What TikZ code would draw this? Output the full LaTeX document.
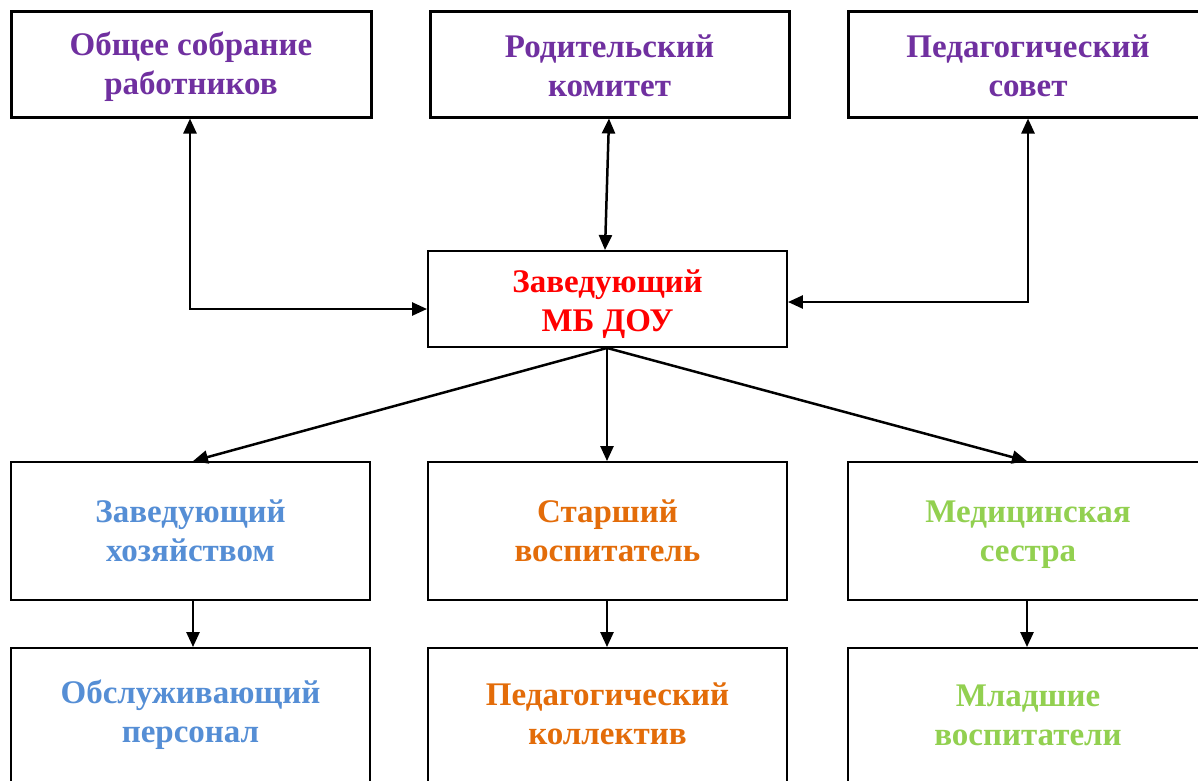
\documentclass[tikz,border=0pt]{standalone}
\usepackage{fontspec}
\setmainfont{Liberation Serif}
\usetikzlibrary{arrows.meta}
\definecolor{cpurple}{HTML}{7030A0}
\definecolor{cred}{HTML}{FF0000}
\definecolor{cblue}{HTML}{558ED5}
\definecolor{corange}{HTML}{E36C09}
\definecolor{cgreen}{HTML}{92D050}
\begin{document}
\begin{tikzpicture}[x=1pt,y=-1pt,
  box/.style={draw=black, line width=1.9pt, fill=white, inner sep=0pt},
  topbox/.style={box, line width=3pt},
  txt/.style={align=center, font=\fontsize{33}{39}\selectfont\bfseries, inner sep=0pt},
  conn/.style={line width=2.5pt, -{Triangle[length=15pt,width=13pt]}},
  biconn/.style={line width=2.5pt, {Triangle[length=15pt,width=13pt]}-{Triangle[length=15pt,width=13pt]}}
]
\useasboundingbox (0,0) rectangle (1198,780);
\fill[white] (0,0) rectangle (1198,780);
% top row
\node[topbox, minimum width=360pt, minimum height=106pt] (t1) at (191,64) {};
\node[txt, text=cpurple] (t1t) at (191,67) {Общее собрание\\работников};
\node[topbox, minimum width=359pt, minimum height=106pt] (t2) at (609.5,64) {};
\node[txt, text=cpurple] (t2t) at (609.5,66) {Родительский\\комитет};
\node[topbox, minimum width=362pt, minimum height=106pt] (t3) at (1029,64) {};
\node[txt, text=cpurple] (t3t) at (1028,66) {Педагогический\\совет};
% centre
\node[box, minimum width=359pt, minimum height=96pt] (c) at (607.5,299) {};
\node[txt, text=cred] (ct) at (607.5,304) {Заведующий\\МБ ДОУ};
% middle row
\node[box, minimum width=359pt, minimum height=138pt] (m1) at (190.5,531) {};
\node[txt, text=cblue] (m1t) at (190.5,531) {Заведующий\\хозяйством};
\node[box, minimum width=359pt, minimum height=138pt] (m2) at (607.5,531) {};
\node[txt, text=corange] (m2t) at (607.5,531) {Старший\\воспитатель};
\node[box, minimum width=362pt, minimum height=138pt] (m3) at (1029,531) {};
\node[txt, text=cgreen] (m3t) at (1028,535) {Медицинская\\сестра};
% bottom row
\node[box, minimum width=359pt, minimum height=142pt] (b1) at (190.5,719) {};
\node[txt, text=cblue] (b1t) at (190.5,715) {Обслуживающий\\персонал};
\node[box, minimum width=359pt, minimum height=142pt] (b2) at (607.5,719) {};
\node[txt, text=corange] (b2t) at (607.5,714) {Педагогический\\коллектив};
\node[box, minimum width=362pt, minimum height=142pt] (b3) at (1029,719) {};
\node[txt, text=cgreen] (b3t) at (1028,715) {Младшие\\воспитатели};
% connectors to centre
\draw[biconn] (t1.south -| 190,0) |- (c.west |- 0,309);
\draw[biconn] (t2.south -| 609,0) -- (c.north -| 605,0);
\draw[biconn] (t3.south -| 1028,0) |- (c.east |- 0,302);
% from centre down
\draw[conn] (c.south -| 607,0) -- (m1.north -| 193,0);
\draw[conn] (c.south -| 607,0) -- (m2.north -| 607,0);
\draw[conn] (c.south -| 607,0) -- (m3.north -| 1027,0);
% middle to bottom
\draw[conn] (m1.south -| 193,0) -- (b1.north -| 193,0);
\draw[conn] (m2.south -| 607,0) -- (b2.north -| 607,0);
\draw[conn] (m3.south -| 1027,0) -- (b3.north -| 1027,0);
\end{tikzpicture}
\end{document}
